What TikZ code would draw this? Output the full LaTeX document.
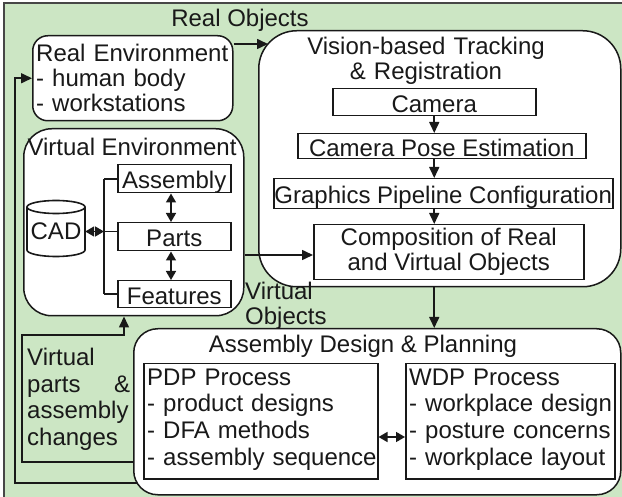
\documentclass[tikz,border=0pt]{standalone}
\usepackage{fontspec}
\setmainfont{Liberation Sans}
\usetikzlibrary{arrows.meta}
\definecolor{bggreen}{RGB}{204,230,196}
\definecolor{ink}{RGB}{25,25,25}

\begin{document}
\begin{tikzpicture}[x=1pt,y=-1pt,
  every node/.style={font=\fontsize{24}{25}\selectfont, text=ink, inner sep=0pt},
  frame/.style={draw=ink, line width=1.5pt, fill=white, anchor=north west},
  roundbox/.style={frame, rounded corners=#1},
  plainbox/.style={frame, text height=21pt, text depth=1pt},
  lbl/.style={align=left, anchor=base west, text width=300pt},
  conn/.style={draw=ink, line width=1.6pt},
  arr/.style={conn, -{Triangle[length=11pt,width=10pt]}},
  darr/.style={conn, {Triangle[length=9pt,width=10pt]}-{Triangle[length=9pt,width=10pt]}},
]
\useasboundingbox (0,0) rectangle (622,497);
\clip (0,0) rectangle (622,497);

% green background panel
\draw[draw=ink!80, line width=1.2pt, fill=bggreen] (4,3) rectangle (640,520);

% real environment
\node[roundbox=15pt, minimum width=200pt, minimum height=85pt] (realenv) at (32,35) {};
\node[lbl] (realenvtext) at (36,62) {Real Environment\\- human body\\- workstations};

% tracking and registration
\node[roundbox=38pt, minimum width=362pt, minimum height=256pt] (vision) at (258,30) {};
\node[anchor=base, align=center, text width=320pt] (visiontitle) at (426,55) {Vision-based Tracking\\\& Registration};
\node[plainbox, minimum width=203pt, minimum height=27pt] (cam) at (332,88) {Camera};
\node[plainbox, minimum width=288pt, minimum height=25pt] (pose) at (297,133) {Camera Pose Estimation};
\node[plainbox, minimum width=339pt, minimum height=30pt] (gfx) at (273,178) {Graphics Pipeline Configuration};
\node[frame, minimum width=270pt, minimum height=55pt, align=center] (comp) at (313,224) {Composition of Real\\and Virtual Objects};

% virtual environment
\node[roundbox=28pt, minimum width=220pt, minimum height=187pt] (venv) at (23,128) {};
\node[anchor=base] (venvtitle) at (132,156) {Virtual Environment};
\draw[conn, fill=white] (27,207) -- (27,250) arc[start angle=180, end angle=360, x radius=29pt, y radius=6.5pt] -- (85,207);
\draw[conn, fill=white] (56,207) ellipse [x radius=29pt, y radius=6.5pt];
\node[minimum width=58pt, text height=17pt, text depth=0pt] (cad) at (56,231.5) {CAD};
\node[plainbox, minimum width=113pt, minimum height=28pt] (asm) at (117,164) {Assembly};
\node[plainbox, minimum width=113pt, minimum height=28pt] (parts) at (117,222) {Parts};
\node[plainbox, minimum width=113pt, minimum height=27pt] (feat) at (117,280) {Features};

% assembly design and planning
\node[roundbox=24pt, minimum width=487pt, minimum height=166pt] (adp) at (133,328) {};
\node[anchor=base] (adptitle) at (363,353) {Assembly Design \& Planning};
\node[frame, minimum width=234pt, minimum height=115pt] (pdp) at (143,363) {};
\node[lbl, font=\fontsize{24}{27}\selectfont] (pdptext) at (147,385) {PDP Process\\- product designs\\- DFA methods\\- assembly sequence};
\node[frame, minimum width=209pt, minimum height=115pt] (wdp) at (405,363) {};
\node[lbl, font=\fontsize{24}{27}\selectfont] (wdptext) at (409,385) {WDP Process\\- workplace design\\- posture concerns\\- workplace layout};

% labels on the green panel
\node[anchor=base] (realobj) at (240,27) {Real Objects};
\node[lbl] (vobj) at (245,300) {Virtual\\Objects};
\node[lbl, font=\fontsize{24}{26.5}\selectfont] (vptext) at (27,366)
  {Virtual\\\makebox[103pt][l]{parts\hfill\&}\\assembly\\changes};

% connectors inside the tracking box
\draw[arr] (cam.south) -- (cam.south |- pose.north);
\draw[arr] (cam.south |- pose.south) -- (cam.south |- gfx.north);
\draw[arr] (cam.south |- gfx.south) -- (cam.south |- comp.north);

% connectors inside the virtual environment
\draw[conn] (asm.west -| 104,0) -- (feat.west -| 104,0);
\draw[conn] (asm.west -| 104,0) -- (asm.west);
\draw[conn] (feat.west -| 104,0) -- (feat.west);
\draw[conn] (cad.east -| 104,0) -- (parts.west |- cad.east);
\draw[darr] (cad.east) -- (cad.east -| 104,0);
\draw[darr] (asm.south -| 171,0) -- (parts.north -| 171,0);
\draw[darr] (parts.south -| 171,0) -- (feat.north -| 171,0);
\draw[darr] (pdp.east |- 0,437) -- (wdp.west |- 0,437);

% flows between the main blocks
\coordinate (visentry) at (268,44);
\draw[arr] (realenv.east |- 0,44) -- (visentry);
\draw[arr] (venv.east |- 0,255) -- (comp.west |- 0,255);
\draw[arr] (cam.south |- vision.south) -- (cam.south |- adp.north);
\draw[arr] (adp.west |- 0,462) -- (22,462) -- (22,335) -- (124,335) -- (124,0 |- venv.south);
\coordinate (outstart) at (137,483);
\draw[arr] (outstart) -- (15,483) -- (15,0 |- realenv.west) -- (realenv.west);
\end{tikzpicture}
\end{document}
